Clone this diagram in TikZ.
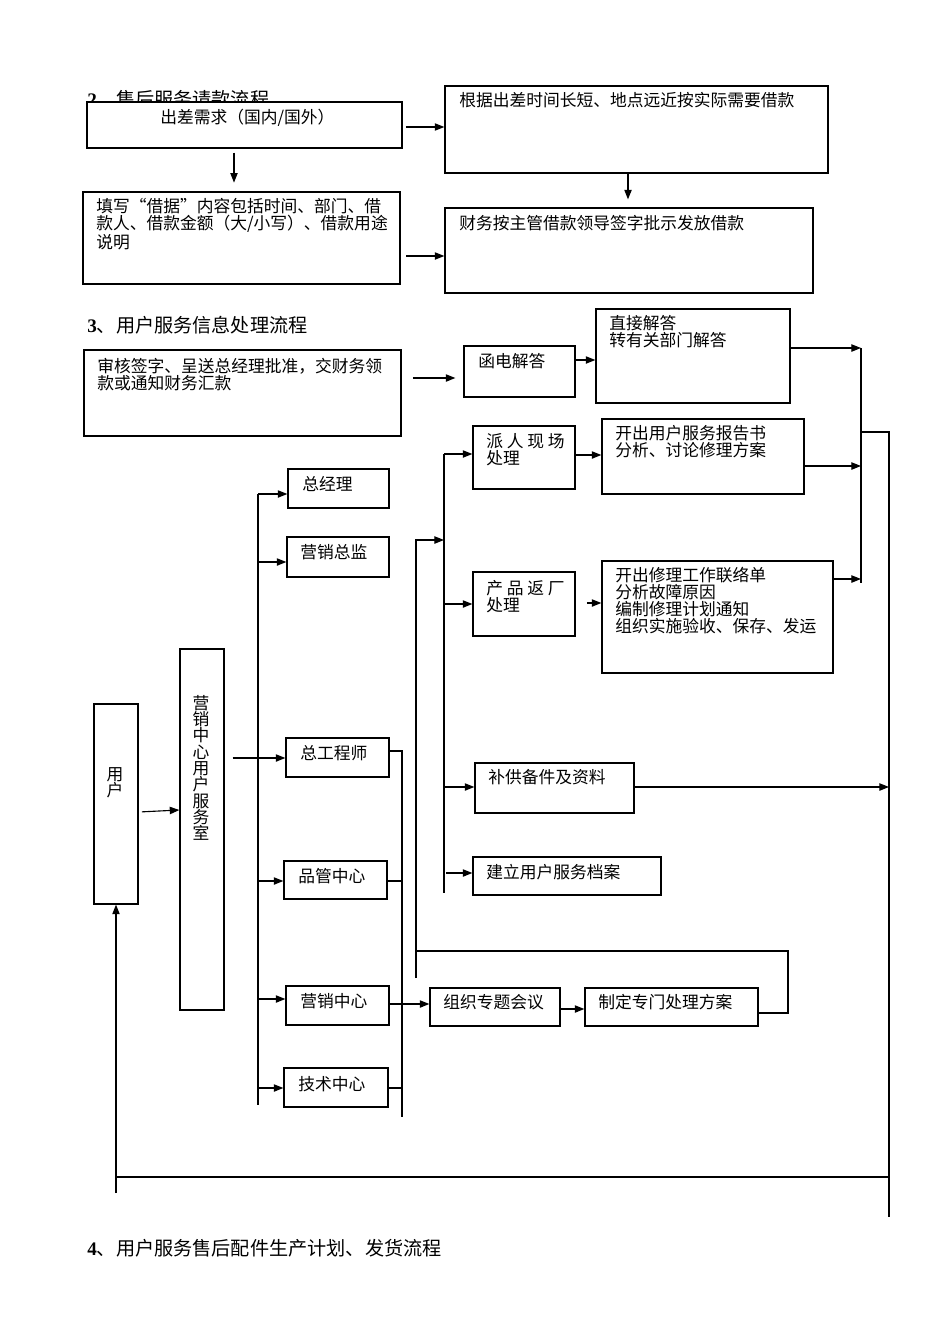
\documentclass[tikz,border=0pt]{standalone}
\usepackage{fontspec}
\setmainfont{Liberation Serif}
\newfontfamily\cjk{Noto Sans CJK SC}
\usetikzlibrary{arrows.meta,fit,calc}
\begin{document}
\begin{tikzpicture}[x=0.6266pt,y=-0.6266pt,
 box/.style={draw, line width=0.8pt, inner sep=0pt, fill=white},
 ln/.style={line width=0.7pt},
 arr/.style={ln,-{Triangle[length=6pt,width=4.6pt]}},
 txt/.style={font=\cjk\fontsize{10.5}{10.65}\selectfont, inner sep=0pt, align=left, anchor=north west},
 ttl/.style={font=\fontsize{12}{14}\selectfont, inner sep=0pt, anchor=base west},
 vtxt/.style={font=\cjk\fontsize{10.5}{10.2}\selectfont, inner sep=0pt, align=center, anchor=north}]
\useasboundingbox[fill=white] (0,0) rectangle (950,1344);

% titles
\node[ttl] (t2) at (87,106.5) {\textbf{2}{\cjk 、售后服务请款流程}};
\node[ttl] (t3) at (87,332) {\textbf{3}{\cjk 、用户服务信息处理流程}};
\node[ttl] (t4) at (87,1255) {\textbf{4}{\cjk 、用户服务售后配件生产计划、发货流程}};

% boxes
\node[box, fit={(87,102) (402,148)}] (A) {};
\node[box, fit={(445,86) (828,173)}] (B) {};
\node[box, fit={(83,192) (400,284)}] (C) {};
\node[box, fit={(445,208) (813,293)}] (D) {};
\node[box, fit={(84,350) (401,436)}] (E) {};
\node[box, fit={(464,346) (575,397)}] (F) {};
\node[box, fit={(596,309) (790,403)}] (G) {};
\node[box, fit={(473,426) (575,489)}] (H) {};
\node[box, fit={(602,419) (804,494)}] (I) {};
\node[box, fit={(473,572) (575,636)}] (J) {};
\node[box, fit={(602,561) (833,673)}] (K) {};
\node[box, fit={(475,763) (634,813)}] (L) {};
\node[box, fit={(473,857) (661,895)}] (M) {};
\node[box, fit={(288,469) (389,508)}] (gm) {};
\node[box, fit={(287,537) (389,577)}] (yz) {};
\node[box, fit={(286,738) (389,777)}] (zg) {};
\node[box, fit={(284,861) (387,899)}] (pg) {};
\node[box, fit={(286,986) (389,1025)}] (yx) {};
\node[box, fit={(284,1068) (388,1107)}] (js) {};
\node[box, fit={(180,649) (224,1010)}] (fw) {};
\node[box, fit={(94,704) (138,904)}] (yh) {};
\node[box, fit={(430,988) (560,1026)}] (zz) {};
\node[box, fit={(585,988) (758,1026)}] (zd) {};

% texts
\node[txt] (tA) at (160,109) {出差需求（国内/国外）};
\node[txt] (tB) at (459,92) {根据出差时间长短、地点远近按实际需要借款};
\node[txt] (tC) at (96,198) {填写“借据”内容包括时间、部门、借\\款人、借款金额（大/小写）、借款用途\\说明};
\node[txt] (tD) at (459,215) {财务按主管借款领导签字批示发放借款};
\node[txt] (tE) at (97,358) {审核签字、呈送总经理批准，交财务领\\款或通知财务汇款};
\node[txt] (tF) at (478,353) {函电解答};
\node[txt] (tG) at (609,315) {直接解答\\转有关部门解答};
\node[txt] (tH) at (486,433) {派 人 现 场\\处理};
\node[txt] (tI) at (615,425) {开出用户服务报告书\\分析、讨论修理方案};
\node[txt] (tJ) at (486,580) {产 品 返 厂\\处理};
\node[txt] (tK) at (615,567) {开出修理工作联络单\\分析故障原因\\编制修理计划通知\\组织实施验收、保存、发运};
\node[txt] (tL) at (488,769) {补供备件及资料};
\node[txt] (tM) at (486,864) {建立用户服务档案};
\node[txt] (tzz) at (443,994) {组织专题会议};
\node[txt] (tzd) at (598,994) {制定专门处理方案};
\node[txt] (tgm) at (302,476) {总经理};
\node[txt] (tyz) at (300,544) {营销总监};
\node[txt] (tzg) at (300,745) {总工程师};
\node[txt] (tpg) at (298,868) {品管中心};
\node[txt] (tyx) at (300,993) {营销中心};
\node[txt] (tjs) at (298,1076) {技术中心};
\node[vtxt] (tfw) at (201,695) {营\\销\\中\\心\\用\\户\\服\\务\\室};
\node[vtxt] (tyh) at (115,767) {用\\户};

% section 2 connectors
\draw[arr, shorten <=2pt] (A.east |- 0,127) -- (B.west |- 0,127);
\draw[arr, shorten <=2.5pt, shorten >=5.5pt] (A.south -| 234,0) -- (C.north -| 234,0);
\draw[arr, shorten >=5pt] (B.south -| 628,0) -- (D.north -| 628,0);
\draw[arr, shorten <=3.5pt] (C.east |- 0,256) -- (D.west |- 0,256);

% section 3 top
\draw[arr, shorten <=7pt, shorten >=5pt] (E.east |- 0,378) -- (F.west |- 0,378);
\draw[arr] (F.east |- 0,360) -- (G.west |- 0,360);
\coordinate (rt) at (861,348);
\coordinate (rb) at (861,583);
\coordinate (R) at (889,432);
\coordinate (Rb) at (889,1217);
\draw[ln] (rt) -- (rb);
\draw[arr] (G.east |- rt) -- (rt);
\draw[arr] (I.east |- 0,466) -- (rt |- 0,466);
\draw[arr] (K.east |- 0,579) -- (rt |- 0,579);
\draw[ln] (rt |- R) -- (R) -- (Rb);
\draw[arr] (L.east |- 0,787) -- (R |- 0,787);

% bottom loop to user
\coordinate (lb) at (yh.south |- 0,1193);
\draw[arr] (lb) -- (yh.south);
\draw[ln] (lb |- 0,1177) -- (R |- 0,1177);

% user -> service room -> chief engineer
\draw[arr, shorten <=2pt] (yh.east |- 0,812) -- (fw.west |- 0,810);
\draw[arr, shorten <=5pt] (fw.east |- 0,758) -- (zg.west |- 0,758);

% left bus
\coordinate (lt) at (258,494);
\coordinate (lbot) at (258,1105);
\draw[ln] (lt) -- (lbot);
\draw[arr] (lt) -- (gm.west |- lt);
\draw[arr] (lt |- 0,562) -- (yz.west |- 0,562);
\draw[arr] (lt |- 0,881) -- (pg.west |- 0,881);
\draw[arr] (lt |- 0,999) -- (yx.west |- 0,999);
\draw[arr] (lt |- 0,1088) -- (js.west |- 0,1088);

% right column of departments
\coordinate (c4t) at (402,751);
\coordinate (c4b) at (402,1117);
\draw[ln] (zg.east |- c4t) -- (c4t) -- (c4b);
\draw[ln] (pg.east |- 0,881) -- (c4t |- 0,881);
\draw[ln] (js.east |- 0,1088) -- (c4t |- 0,1088);

% meeting chain
\draw[arr] (yx.east |- 0,1004) -- (zz.west |- 0,1004);
\draw[arr] (zz.east |- 0,1009) -- (zd.west |- 0,1009);
\coordinate (q1) at (788,951);
\coordinate (q0) at (416,951);
\draw[ln] (zd.east |- 0,1013) -- (q1 |- 0,1013) -- (q1) -- (q0);
\coordinate (bt) at (444,454);
\coordinate (bb) at (444,893);
\draw[arr] (q0 |- 0,978) -- (q0 |- 0,540) -- (bt |- 0,540);

% processing bus
\draw[ln] (bt) -- (bb);
\draw[arr] (bt) -- (H.west |- bt);
\draw[arr] (bt |- 0,604) -- (J.west |- 0,604);
\draw[arr] (bt |- 0,787) -- (L.west |- 0,787);
\draw[arr, shorten <=1.3pt] (bt |- 0,873) -- (M.west |- 0,873);
\draw[arr] (H.east |- 0,455) -- (I.west |- 0,455);
\draw[arr, shorten <=7pt] (J.east |- 0,603) -- (K.west |- 0,603);
\end{tikzpicture}
\end{document}
